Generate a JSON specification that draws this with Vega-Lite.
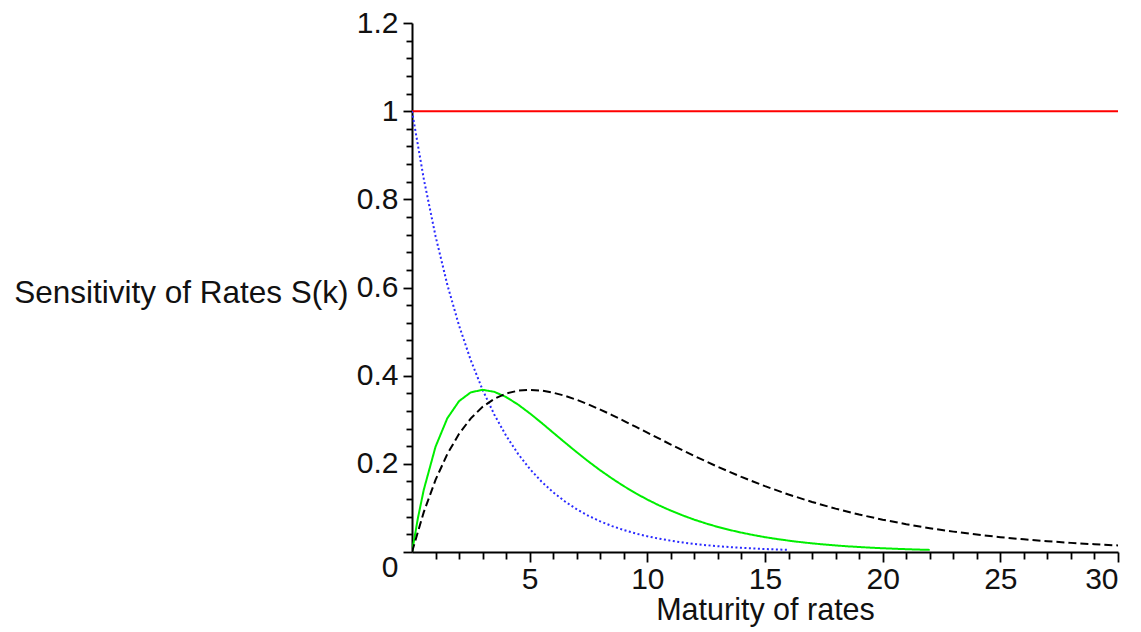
{
  "$schema": "https://vega.github.io/schema/vega-lite/v6.json",
  "width": 706,
  "height": 529,
  "autosize": {"type": "none"},
  "padding": {"left": 412, "top": 23, "right": 23, "bottom": 80},
  "background": "white",
  "config": {
    "view": {"stroke": null},
    "font": "Liberation Sans"
  },
  "datasets": {
    "curves": [
      {"k": 0, "s": 1, "curve": "flat"}, {"k": 30, "s": 1, "curve": "flat"},
      {"k": 0, "s": 1, "curve": "exp"}, {"k": 0.5, "s": 0.8465, "curve": "exp"}, {"k": 1, "s": 0.7165, "curve": "exp"}, {"k": 1.5, "s": 0.6065, "curve": "exp"}, {"k": 2, "s": 0.5134, "curve": "exp"}, {"k": 2.5, "s": 0.4346, "curve": "exp"}, {"k": 3, "s": 0.3679, "curve": "exp"}, {"k": 3.5, "s": 0.3114, "curve": "exp"}, {"k": 4, "s": 0.2636, "curve": "exp"}, {"k": 4.5, "s": 0.2231, "curve": "exp"}, {"k": 5, "s": 0.1889, "curve": "exp"}, {"k": 5.5, "s": 0.1599, "curve": "exp"}, {"k": 6, "s": 0.1353, "curve": "exp"}, {"k": 6.5, "s": 0.1146, "curve": "exp"}, {"k": 7, "s": 0.097, "curve": "exp"}, {"k": 7.5, "s": 0.0821, "curve": "exp"}, {"k": 8, "s": 0.0695, "curve": "exp"}, {"k": 8.5, "s": 0.0588, "curve": "exp"}, {"k": 9, "s": 0.0498, "curve": "exp"}, {"k": 9.5, "s": 0.0421, "curve": "exp"}, {"k": 10, "s": 0.0357, "curve": "exp"}, {"k": 10.5, "s": 0.0302, "curve": "exp"}, {"k": 11, "s": 0.0256, "curve": "exp"}, {"k": 11.5, "s": 0.0216, "curve": "exp"}, {"k": 12, "s": 0.0183, "curve": "exp"}, {"k": 12.5, "s": 0.0155, "curve": "exp"}, {"k": 13, "s": 0.0131, "curve": "exp"}, {"k": 13.5, "s": 0.0111, "curve": "exp"}, {"k": 14, "s": 0.0094, "curve": "exp"}, {"k": 14.5, "s": 0.008, "curve": "exp"}, {"k": 15, "s": 0.0067, "curve": "exp"}, {"k": 15.5, "s": 0.0057, "curve": "exp"}, {"k": 16, "s": 0.0048, "curve": "exp"},
      {"k": 0, "s": 0, "curve": "hump3"}, {"k": 0.25, "s": 0.0766, "curve": "hump3"}, {"k": 0.5, "s": 0.1411, "curve": "hump3"}, {"k": 1, "s": 0.2388, "curve": "hump3"}, {"k": 1.5, "s": 0.3033, "curve": "hump3"}, {"k": 2, "s": 0.3423, "curve": "hump3"}, {"k": 2.5, "s": 0.3622, "curve": "hump3"}, {"k": 3, "s": 0.3679, "curve": "hump3"}, {"k": 3.5, "s": 0.3633, "curve": "hump3"}, {"k": 4, "s": 0.3515, "curve": "hump3"}, {"k": 4.5, "s": 0.3347, "curve": "hump3"}, {"k": 5, "s": 0.3148, "curve": "hump3"}, {"k": 5.5, "s": 0.2932, "curve": "hump3"}, {"k": 6, "s": 0.2707, "curve": "hump3"}, {"k": 6.5, "s": 0.2483, "curve": "hump3"}, {"k": 7, "s": 0.2264, "curve": "hump3"}, {"k": 7.5, "s": 0.2052, "curve": "hump3"}, {"k": 8, "s": 0.1853, "curve": "hump3"}, {"k": 8.5, "s": 0.1667, "curve": "hump3"}, {"k": 9, "s": 0.1494, "curve": "hump3"}, {"k": 9.5, "s": 0.1334, "curve": "hump3"}, {"k": 10, "s": 0.1189, "curve": "hump3"}, {"k": 10.5, "s": 0.1057, "curve": "hump3"}, {"k": 11, "s": 0.0938, "curve": "hump3"}, {"k": 11.5, "s": 0.083, "curve": "hump3"}, {"k": 12, "s": 0.0733, "curve": "hump3"}, {"k": 12.5, "s": 0.0646, "curve": "hump3"}, {"k": 13, "s": 0.0568, "curve": "hump3"}, {"k": 13.5, "s": 0.05, "curve": "hump3"}, {"k": 14, "s": 0.0439, "curve": "hump3"}, {"k": 14.5, "s": 0.0385, "curve": "hump3"}, {"k": 15, "s": 0.0337, "curve": "hump3"}, {"k": 15.5, "s": 0.0295, "curve": "hump3"}, {"k": 16, "s": 0.0258, "curve": "hump3"}, {"k": 16.5, "s": 0.0225, "curve": "hump3"}, {"k": 17, "s": 0.0196, "curve": "hump3"}, {"k": 17.5, "s": 0.0171, "curve": "hump3"}, {"k": 18, "s": 0.0149, "curve": "hump3"}, {"k": 18.5, "s": 0.0129, "curve": "hump3"}, {"k": 19, "s": 0.0113, "curve": "hump3"}, {"k": 19.5, "s": 0.0098, "curve": "hump3"}, {"k": 20, "s": 0.0085, "curve": "hump3"}, {"k": 20.5, "s": 0.0074, "curve": "hump3"}, {"k": 21, "s": 0.0064, "curve": "hump3"}, {"k": 21.5, "s": 0.0055, "curve": "hump3"}, {"k": 22, "s": 0.0048, "curve": "hump3"},
      {"k": 0, "s": 0, "curve": "hump5"}, {"k": 0.5, "s": 0.0905, "curve": "hump5"}, {"k": 1, "s": 0.1637, "curve": "hump5"}, {"k": 1.5, "s": 0.2222, "curve": "hump5"}, {"k": 2, "s": 0.2681, "curve": "hump5"}, {"k": 2.5, "s": 0.3033, "curve": "hump5"}, {"k": 3, "s": 0.3293, "curve": "hump5"}, {"k": 3.5, "s": 0.3476, "curve": "hump5"}, {"k": 4, "s": 0.3595, "curve": "hump5"}, {"k": 4.5, "s": 0.3659, "curve": "hump5"}, {"k": 5, "s": 0.3679, "curve": "hump5"}, {"k": 5.5, "s": 0.3662, "curve": "hump5"}, {"k": 6, "s": 0.3614, "curve": "hump5"}, {"k": 6.5, "s": 0.3543, "curve": "hump5"}, {"k": 7, "s": 0.3452, "curve": "hump5"}, {"k": 7.5, "s": 0.3347, "curve": "hump5"}, {"k": 8, "s": 0.323, "curve": "hump5"}, {"k": 8.5, "s": 0.3106, "curve": "hump5"}, {"k": 9, "s": 0.2975, "curve": "hump5"}, {"k": 9.5, "s": 0.2842, "curve": "hump5"}, {"k": 10, "s": 0.2707, "curve": "hump5"}, {"k": 11, "s": 0.2438, "curve": "hump5"}, {"k": 12, "s": 0.2177, "curve": "hump5"}, {"k": 13, "s": 0.1931, "curve": "hump5"}, {"k": 14, "s": 0.1703, "curve": "hump5"}, {"k": 15, "s": 0.1494, "curve": "hump5"}, {"k": 16, "s": 0.1304, "curve": "hump5"}, {"k": 17, "s": 0.1135, "curve": "hump5"}, {"k": 18, "s": 0.0984, "curve": "hump5"}, {"k": 19, "s": 0.085, "curve": "hump5"}, {"k": 20, "s": 0.0733, "curve": "hump5"}, {"k": 21, "s": 0.063, "curve": "hump5"}, {"k": 22, "s": 0.054, "curve": "hump5"}, {"k": 23, "s": 0.0462, "curve": "hump5"}, {"k": 24, "s": 0.0395, "curve": "hump5"}, {"k": 25, "s": 0.0337, "curve": "hump5"}, {"k": 26, "s": 0.0287, "curve": "hump5"}, {"k": 27, "s": 0.0244, "curve": "hump5"}, {"k": 28, "s": 0.0207, "curve": "hump5"}, {"k": 29, "s": 0.0176, "curve": "hump5"}, {"k": 30, "s": 0.0149, "curve": "hump5"}
    ]
  },
  "data": {"name": "curves"},
  "mark": {"type": "line", "strokeWidth": 2, "clip": true},
  "encoding": {
    "x": {
      "field": "k", "type": "quantitative",
      "scale": {"domain": [0, 30], "nice": false, "zero": false},
      "axis": {
        "orient": "bottom",
        "values": [1,2,3,4,5,6,7,8,9,10,11,12,13,14,15,16,17,18,19,20,21,22,23,24,25,26,27,28,29,30],
        "labelExpr": "datum.value % 5 == 0 ? format(datum.value, 'd') : ''",
        "labelOverlap": false,
        "labelFontSize": 30,
        "labelColor": "#111111",
        "labelPadding": 2,
        "labelFont": "Liberation Sans",
        "tickSize": {"condition": {"test": "datum.value % 5 == 0", "value": 10}, "value": 7},
        "tickColor": "#000000",
        "tickWidth": 1.8,
        "domainColor": "#000000",
        "domainWidth": 2,
        "grid": false,
        "title": "Maturity of rates",
        "titleFont": "Liberation Sans",
        "titleFontSize": 30.5,
        "titleFontWeight": "normal",
        "titleColor": "#111111",
        "titlePadding": 1
      }
    },
    "y": {
      "field": "s", "type": "quantitative",
      "scale": {"domain": [0, 1.2], "nice": false},
      "axis": {
        "orient": "left",
        "values": [0,0.04,0.08,0.12,0.16,0.2,0.24,0.28,0.32,0.36,0.4,0.44,0.48,0.52,0.56,0.6,0.64,0.68,0.72,0.76,0.8,0.84,0.88,0.92,0.96,1,1.04,1.08,1.12,1.16,1.2],
        "labelExpr": "abs(datum.value*5 - round(datum.value*5)) < 0.001 ? format(datum.value, '.1~f') : ''",
        "labelOverlap": false,
        "labelFontSize": 30,
        "labelColor": "#111111",
        "labelFont": "Liberation Sans",
        "labelPadding": 5,
        "labelBaseline": {"condition": {"test": "datum.value == 0", "value": "top"}, "value": "middle"},
        "tickSize": {"condition": {"test": "abs(datum.value*5 - round(datum.value*5)) < 0.001", "value": 9}, "value": 6},
        "tickColor": "#000000",
        "tickWidth": 1.8,
        "domainColor": "#000000",
        "domainWidth": 2,
        "grid": false,
        "title": "Sensitivity of Rates S(k)",
        "titleFont": "Liberation Sans",
        "titleFontSize": 31.5,
        "titleFontWeight": "normal",
        "titleColor": "#111111",
        "titleAngle": 0,
        "titleAlign": "right",
        "titleBaseline": "middle",
        "titleX": -64,
        "titleY": 270
      }
    },
    "detail": {"field": "curve"},
    "color": {
      "field": "curve", "type": "nominal", "legend": null,
      "scale": {"domain": ["flat", "exp", "hump3", "hump5"], "range": ["#ff0000", "#2a2aff", "#00ee00", "#000000"]}
    },
    "strokeDash": {
      "field": "curve", "type": "nominal", "legend": null,
      "scale": {"domain": ["flat", "exp", "hump3", "hump5"], "range": [[1, 0], [2, 2.5], [1, 0], [8, 4]]}
    }
  }
}
